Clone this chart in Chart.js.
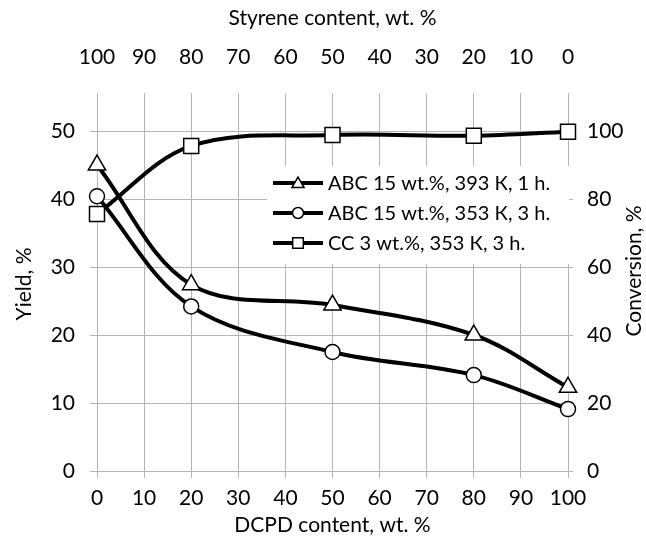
<!DOCTYPE html>
<html>
<head>
<meta charset="utf-8">
<script src="https://cdn.jsdelivr.net/npm/chart.js@4.4.1/dist/chart.umd.min.js"></script>
<style>
    html, body { margin: 0; padding: 0; background: #fff; }
    #wrap { width: 646px; height: 540px; }
</style>
</head>
<body>
<div id="wrap"><canvas id="chart" width="646" height="540"></canvas></div>
<script>
// Values
const dcpdContent = [0, 20, 50, 80, 100];
const yieldAbc393 = [45.0, 27.4, 24.4, 20.0, 12.3];
const yieldAbc353 = [40.4, 24.2, 17.5, 14.1, 9.1];
const conversionCc = [75.6, 95.6, 98.8, 98.6, 99.8];

const seriesLabels = [
    'ABC 15 wt.%, 393 К, 1 h.',
    'ABC 15 wt.%, 353 К, 3 h.',
    'CC 3 wt.%, 353 К, 3 h.',
];

const xTicks = [0, 10, 20, 30, 40, 50, 60, 70, 80, 90, 100];
const yieldTicks = [0, 10, 20, 30, 40, 50];
const conversionTicks = [0, 20, 40, 60, 80, 100];

const FONT = 'Lato';
const GRID = '#b4b4b4';

const toPoints = (ys) => dcpdContent.map((x, i) => ({ x, y: ys[i] }));
const setTicks = (values) => (axis) => {
    axis.ticks = values.map((v) => ({ value: v }));
};

// legend drawn inside the plot, on a white box
const insideLegend = {
    id: 'insideLegend',
    afterDatasetsDraw(chart) {
        const { ctx } = chart;
        ctx.save();
        ctx.fillStyle = '#fff';
        ctx.fillRect(267, 166, 302, 98);

        const rows = [183, 213, 243];
        const markers = [
            { style: 'triangle', radius: 7 },
            { style: 'circle', radius: 5.5 },
            { style: 'rect', radius: 7.5 },
        ];
        rows.forEach((y, i) => {
            ctx.strokeStyle = '#000';
            ctx.lineWidth = 4;
            ctx.beginPath();
            ctx.moveTo(273, y);
            ctx.lineTo(323, y);
            ctx.stroke();

            ctx.fillStyle = '#fff';
            ctx.lineWidth = 1.5;
            Chart.helpers.drawPoint(ctx, {
                pointStyle: markers[i].style,
                radius: markers[i].radius,
                rotation: 0,
                borderWidth: 1.5,
            }, 298, y + (markers[i].style === 'triangle' ? 1 : 0));

            ctx.fillStyle = '#000';
            ctx.font = `20px ${FONT}`;
            ctx.textBaseline = 'middle';
            ctx.textAlign = 'left';
            ctx.fillText(seriesLabels[i], 328, y + 1);
        });

        // right axis title reads bottom to top, like the left one
        ctx.translate(634, 271);
        ctx.rotate(-Math.PI / 2);
        ctx.font = `21px ${FONT}`;
        ctx.textAlign = 'center';
        ctx.fillText('Conversion, %', 0, 0);
        ctx.restore();
    },
};

const lineStyle = {
    borderColor: '#000',
    borderWidth: 4,
    pointBackgroundColor: '#fff',
    pointBorderColor: '#000',
    pointBorderWidth: 1.5,
    tension: 0.35,
    fill: false,
    clip: false,
};

new Chart(document.getElementById('chart'), {
    type: 'line',
    data: {
        datasets: [
            {
                ...lineStyle,
                label: seriesLabels[0],
                data: toPoints(yieldAbc393),
                yAxisID: 'y',
                pointStyle: 'triangle',
                pointRadius: 10,
            },
            {
                ...lineStyle,
                label: seriesLabels[1],
                data: toPoints(yieldAbc353),
                yAxisID: 'y',
                pointStyle: 'circle',
                pointRadius: 7.5,
            },
            {
                ...lineStyle,
                label: seriesLabels[2],
                data: toPoints(conversionCc),
                yAxisID: 'y2',
                pointStyle: 'rect',
                pointRadius: 10.6,
            },
        ],
    },
    options: {
        responsive: false,
        animation: false,
        layout: { padding: 0 },
        plugins: {
            legend: { display: false },
            tooltip: { enabled: false },
        },
        scales: {
            x: {
                type: 'linear',
                position: 'bottom',
                min: 0,
                max: 100,
                afterBuildTicks: setTicks(xTicks),
                afterFit: (s) => { s.height = 69; },
                grid: { color: GRID, tickLength: 7 },
                border: { color: GRID },
                ticks: { color: '#000', font: { family: FONT, size: 21 }, padding: 8 },
                title: {
                    display: true,
                    text: 'DCPD content, wt. %',
                    color: '#000',
                    font: { family: FONT, size: 21 },
                    padding: { top: 0, bottom: 2 },
                },
            },
            x2: {
                type: 'linear',
                position: 'top',
                reverse: true,
                min: 0,
                max: 100,
                afterBuildTicks: setTicks(xTicks),
                afterFit: (s) => { s.height = 97; },
                grid: { drawOnChartArea: false, color: GRID, tickLength: 4 },
                border: { display: false },
                ticks: { color: '#000', font: { family: FONT, size: 21 }, padding: 23 },
                title: {
                    display: true,
                    text: 'Styrene content, wt. %',
                    color: '#000',
                    font: { family: FONT, size: 21 },
                    padding: { top: 6, bottom: 0 },
                },
            },
            y: {
                position: 'left',
                min: 0,
                max: 55,
                afterBuildTicks: setTicks(yieldTicks),
                afterFit: (s) => { s.width = 97; },
                grid: { color: GRID, tickLength: 7 },
                border: { color: GRID },
                ticks: { color: '#000', font: { family: FONT, size: 21 }, padding: 15 },
                title: {
                    display: true,
                    text: 'Yield, %',
                    color: '#000',
                    font: { family: FONT, size: 21 },
                    padding: { top: 12, bottom: 0 },
                },
            },
            y2: {
                position: 'right',
                min: 0,
                max: 110,
                afterBuildTicks: setTicks(conversionTicks),
                afterFit: (s) => { s.width = 78; },
                grid: { drawOnChartArea: false, color: GRID, tickLength: 5 },
                border: { color: GRID },
                ticks: { color: '#000', font: { family: FONT, size: 21 }, padding: 14 },
                title: { display: false },
            },
        },
    },
    plugins: [insideLegend],
});
</script>
</body>
</html>
